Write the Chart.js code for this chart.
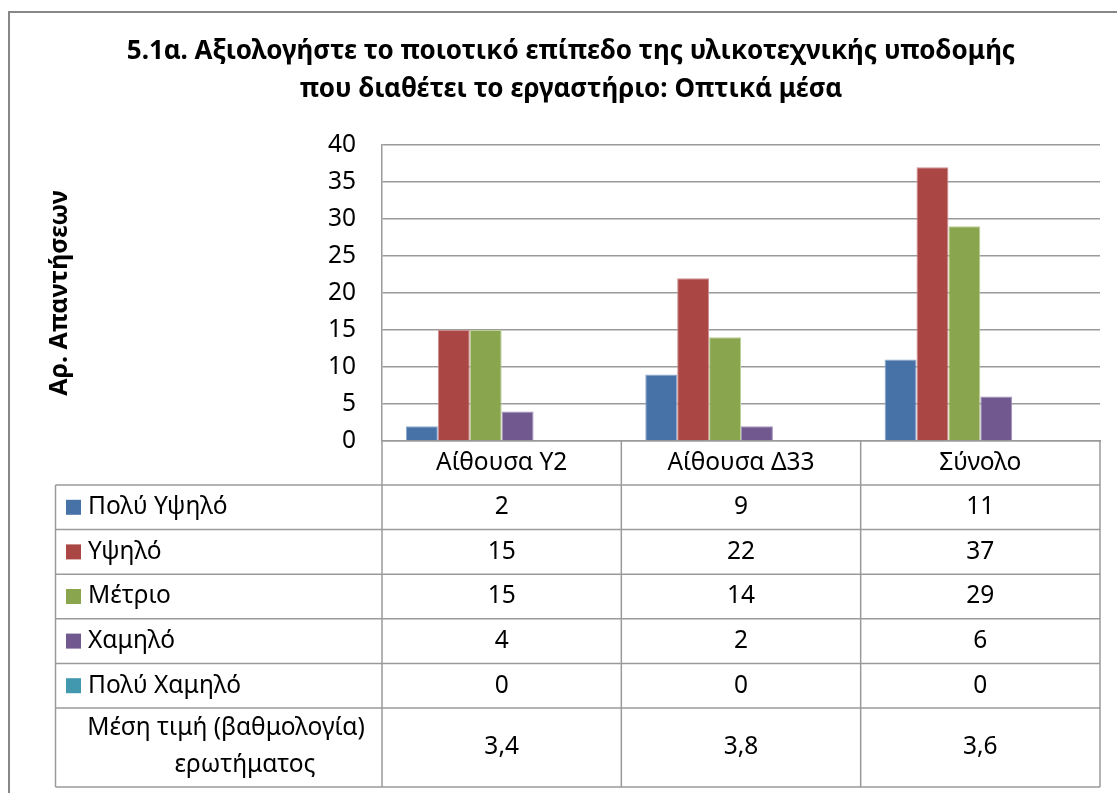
<!DOCTYPE html>
<html>
<head>
<meta charset="utf-8">
<title>5.1α Οπτικά μέσα</title>
<script src="https://cdn.jsdelivr.net/npm/chart.js@4.4.0/dist/chart.umd.min.js"></script>
<style>
    html, body { margin: 0; padding: 0; background: #fff; overflow: hidden; }
    #wrap { position: absolute; left: 0; top: 0; width: 1117px; height: 793px; }
</style>
</head>
<body>
<div id="wrap"><canvas id="chart" width="1117" height="793"></canvas></div>
<script>
// δεδομένα του γραφήματος
const categories = ['Αίθουσα Υ2', 'Αίθουσα Δ33', 'Σύνολο'];
const seriesNames = ['Πολύ Υψηλό', 'Υψηλό', 'Μέτριο', 'Χαμηλό', 'Πολύ Χαμηλό'];
const veryHigh = [2, 9, 11];
const high = [15, 22, 37];
const medium = [15, 14, 29];
const low = [4, 2, 6];
const veryLow = [0, 0, 0];
const meanLabel = ['Μέση τιμή (βαθμολογία)', 'ερωτήματος'];
const meanScore = [3.4, 3.8, 3.6];
const yMin = 0;
const yMax = 40;
const yStep = 5;

const titleLines = [
    '5.1α. Αξιολογήστε το ποιοτικό επίπεδο της υλικοτεχνικής υποδομής',
    'που διαθέτει το εργαστήριο: Οπτικά μέσα'
];
const yTitle = 'Αρ. Απαντήσεων';

const seriesValues = [veryHigh, high, medium, low, veryLow];
const colors = ['#4672A8', '#AA4644', '#89A54E', '#71588F', '#4198AF'];
const edgeColors = ['#8FAAD0', '#D08F8E', '#BCD097', '#A595BE', '#8FC7D6'];

const FONT = "'Noto Sans', 'DejaVu Sans', sans-serif";
const TEXT_SIZE = 24.5;
const lineColor = '#9a9a9a';

// ο πίνακας δεδομένων κάτω από το γράφημα (όπως στο Excel)
const dataTablePlugin = {
    id: 'dataTable',
    beforeDraw(chart) {
        const ctx = chart.ctx;
        ctx.save();
        ctx.fillStyle = '#fff';
        ctx.fillRect(0, 0, chart.width, chart.height);
        ctx.strokeStyle = '#878787';
        ctx.lineWidth = 2;
        ctx.strokeRect(9, 12, 1200, 900);
        ctx.restore();
    },
    afterDraw(chart) {
        const ctx = chart.ctx;
        const x = chart.scales.x;
        const area = chart.chartArea;
        const tableLeft = 55.5;
        const rowH = 44.6;
        const meanH = 79;
        const firstRow = area.bottom + 44;
        const step = (x.right - x.left) / categories.length;
        const bottom = firstRow + rowH * seriesNames.length + meanH;

        ctx.save();
        ctx.strokeStyle = lineColor;
        ctx.lineWidth = 1.5;

        // οριζόντιες γραμμές
        ctx.beginPath();
        for (let r = 0; r <= seriesNames.length; r++) {
            const y = firstRow + r * rowH;
            ctx.moveTo(tableLeft, y);
            ctx.lineTo(x.right, y);
        }
        ctx.moveTo(tableLeft, bottom);
        ctx.lineTo(x.right, bottom);

        // κάθετες γραμμές
        ctx.moveTo(tableLeft, firstRow);
        ctx.lineTo(tableLeft, bottom);
        for (let i = 0; i <= categories.length; i++) {
            const xx = x.left + i * step;
            ctx.moveTo(xx, area.bottom);
            ctx.lineTo(xx, bottom);
        }
        ctx.stroke();

        ctx.fillStyle = '#000';
        ctx.font = TEXT_SIZE + 'px ' + FONT;
        ctx.textBaseline = 'middle';

        seriesNames.forEach((name, s) => {
            const cy = firstRow + s * rowH + rowH / 2;
            ctx.fillStyle = colors[s];
            ctx.fillRect(66, cy - 7.5, 15, 15);
            ctx.fillStyle = '#000';
            ctx.textAlign = 'left';
            ctx.fillText(name, 88, cy);
            ctx.textAlign = 'center';
            seriesValues[s].forEach((v, i) => {
                ctx.fillText(String(v), x.getPixelForValue(i), cy);
            });
        });

        const mTop = firstRow + seriesNames.length * rowH;
        ctx.textAlign = 'center';
        ctx.fillText(meanLabel[0], 226, mTop + 20);
        ctx.fillText(meanLabel[1], 245, mTop + 57);
        meanScore.forEach((v, i) => {
            ctx.fillText(v.toFixed(1).replace('.', ','), x.getPixelForValue(i), mTop + meanH / 2);
        });
        ctx.restore();
    }
};

const datasets = seriesNames.map((name, s) => ({
    label: name,
    data: seriesValues[s],
    backgroundColor: colors[s],
    borderColor: edgeColors[s],
    borderWidth: 1
}));
// η μέση τιμή είναι σειρά χωρίς γέμισμα: πιάνει θέση αλλά δεν φαίνεται
datasets.push({
    label: 'Μέση τιμή',
    data: meanScore,
    backgroundColor: 'rgba(0,0,0,0)',
    borderWidth: 0
});

new Chart(document.getElementById('chart'), {
    type: 'bar',
    data: { labels: categories, datasets: datasets },
    plugins: [dataTablePlugin],
    options: {
        responsive: false,
        animation: false,
        devicePixelRatio: 1,
        layout: { padding: { left: 42, right: 17, top: 0, bottom: 0 } },
        datasets: { bar: { categoryPercentage: 0.8, barPercentage: 1 } },
        plugins: {
            legend: { display: false },
            tooltip: { enabled: false },
            title: {
                display: true,
                text: titleLines,
                color: '#000',
                font: { family: FONT, size: 26, weight: 'bold', lineHeight: 1.46 },
                padding: { top: 33, bottom: 36 }
            }
        },
        scales: {
            x: {
                grid: { display: false, drawTicks: false },
                border: { display: true, color: lineColor, width: 1.5 },
                ticks: { color: '#000', font: { family: FONT, size: TEXT_SIZE }, padding: 7 },
                afterFit(scale) { scale.height = 793 - 441; }
            },
            y: {
                min: yMin,
                max: yMax,
                grid: { color: lineColor, lineWidth: 1.5, drawTicks: false },
                border: { display: true, color: lineColor, width: 1.5 },
                ticks: { stepSize: yStep, color: '#000', font: { family: FONT, size: TEXT_SIZE }, padding: 26 },
                title: {
                    display: true,
                    text: yTitle,
                    color: '#000',
                    font: { family: FONT, size: 25, weight: 'bold' },
                    padding: { top: 3, bottom: 0 }
                },
                afterFit(scale) { scale.width = 340; }
            }
        }
    }
});
</script>
</body>
</html>
